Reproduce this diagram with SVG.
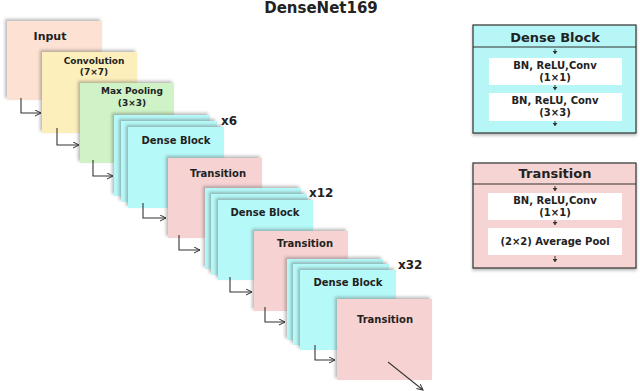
<svg xmlns="http://www.w3.org/2000/svg" width="640" height="391" viewBox="0 0 640 391">
<defs>
<filter id="sh" x="-20%" y="-20%" width="140%" height="140%">
<feDropShadow dx="-2" dy="-2" stdDeviation="1.5" flood-color="#555" flood-opacity="0.4"/>
</filter>
<filter id="sh2" x="-10%" y="-10%" width="120%" height="130%">
<feDropShadow dx="0" dy="2" stdDeviation="1.5" flood-color="#555" flood-opacity="0.4"/>
</filter>
<marker id="ah" markerWidth="8" markerHeight="8" refX="6" refY="3" orient="auto" markerUnits="userSpaceOnUse">
<path d="M0,0 L6,3 L0,6" fill="none" stroke="#333" stroke-width="1"/>
</marker>
<marker id="sa" markerWidth="6" markerHeight="6" refX="2.5" refY="4" orient="0" markerUnits="userSpaceOnUse">
<path d="M0,1 L2.5,4 L5,1 Z" fill="#333"/>
</marker>
</defs>
<style>
text{font-family:"DejaVu Sans","Liberation Sans",sans-serif;font-weight:bold;fill:#222;text-anchor:middle}
.in{fill:#fde1d3}
.cv{fill:#fdefbb}
.mp{fill:#cff2c6}
.db{fill:#b6f9f9}
.tr{fill:#f6d3d2}
.blk rect{filter:url(#sh)}
.lbl{font-size:10px}
.sm{font-size:9px}
.cnt{font-size:12px;text-anchor:start}
.conn path{fill:none;stroke:#333;stroke-width:1.1;marker-end:url(#ah)}
.pn{stroke:#333;stroke-width:1.2;filter:url(#sh2)}
.wb{fill:#fff}
.ph{font-size:13px}
.pt{font-size:10px}
.small{stroke:#333;stroke-width:1;marker-end:url(#sa)}
</style>
<text x="321" y="13" style="font-size:15px">DenseNet169</text>

<g id="input" class="blk"><rect class="in" x="7" y="21" width="95" height="79"/><text x="50" y="40" style="font-size:11px">Input</text></g>
<g id="conv" class="blk"><rect class="cv" x="42" y="52" width="95" height="81"/><text class="sm" x="94" y="64">Convolution</text><text class="sm" x="94" y="75">(7×7)</text></g>
<g id="maxpool" class="blk"><rect class="mp" x="80" y="83" width="94" height="80"/><text class="sm" x="132" y="94">Max Pooling</text><text class="sm" x="132" y="106">(3×3)</text></g>
<g id="dense1" class="blk"><rect class="db" x="114" y="115" width="96" height="81"/><rect class="db" x="121" y="121" width="96" height="81"/><rect class="db" x="128" y="127" width="96" height="81"/><text class="lbl" x="176" y="144">Dense Block</text><text class="cnt" x="221" y="125">x6</text></g>
<g id="trans1" class="blk"><rect class="tr" x="168" y="158" width="94" height="80"/><text class="lbl" x="218" y="177">Transition</text></g>
<g id="dense2" class="blk"><rect class="db" x="205" y="188" width="96" height="81"/><rect class="db" x="211" y="194" width="96" height="81"/><rect class="db" x="218" y="200" width="95" height="80"/><text class="lbl" x="265" y="216">Dense Block</text><text class="cnt" x="309" y="197">x12</text></g>
<g id="trans2" class="blk"><rect class="tr" x="254" y="231" width="94" height="80"/><text class="lbl" x="305" y="247">Transition</text></g>
<g id="dense3" class="blk"><rect class="db" x="287" y="259" width="96" height="81"/><rect class="db" x="293" y="264" width="96" height="81"/><rect class="db" x="300" y="270" width="96" height="80"/><text class="lbl" x="348" y="286">Dense Block</text><text class="cnt" x="398" y="269">x32</text></g>
<g id="trans3" class="blk"><rect class="tr" x="337" y="299" width="95" height="81"/><text class="lbl" x="385" y="323">Transition</text></g>

<g id="connectors" class="conn">
<path d="M21,98 V113 H41"/>
<path d="M57,128 V145 H79"/>
<path d="M93,160 V176 H113"/>
<path d="M143,203 V218 H166"/>
<path d="M179,235 V250 H200"/>
<path d="M230,277 V292 H252"/>
<path d="M265,307 V322 H285"/>
<path d="M315,345 V360 H335"/>
<path d="M388,362 L423,390"/>
</g>

<g id="panel-dense">
<rect class="pn" x="473" y="25" width="163" height="108" fill="#b6f6f6"/>
<line x1="473" y1="47" x2="636" y2="47" stroke="#333" stroke-width="1"/>
<text class="ph" x="555" y="42">Dense Block</text>
<rect class="wb" x="489" y="58" width="133" height="27"/>
<rect class="wb" x="489" y="93" width="133" height="28"/>
<text class="pt" x="555" y="69">BN, ReLU,Conv</text>
<text class="pt" x="555" y="81">(1×1)</text>
<text class="pt" x="555" y="104">BN, ReLU, Conv</text>
<text class="pt" x="555" y="116">(3×3)</text>
<line class="small" x1="555" y1="49" x2="555" y2="54"/>
<line class="small" x1="555" y1="85" x2="555" y2="90"/>
<line class="small" x1="555" y1="121" x2="555" y2="126"/>
</g>

<g id="panel-transition">
<rect class="pn" x="473" y="163" width="163" height="105" fill="#f6d4d4"/>
<line x1="473" y1="184" x2="636" y2="184" stroke="#333" stroke-width="1"/>
<text class="ph" x="555" y="178">Transition</text>
<rect class="wb" x="488" y="193" width="134" height="27"/>
<rect class="wb" x="488" y="228" width="134" height="27"/>
<text class="pt" x="555" y="204">BN, ReLU,Conv</text>
<text class="pt" x="555" y="216">(1×1)</text>
<text class="pt" x="555" y="245">(2×2) Average Pool</text>
<line class="small" x1="555" y1="186" x2="555" y2="191"/>
<line class="small" x1="555" y1="220" x2="555" y2="225"/>
<line class="small" x1="555" y1="256" x2="555" y2="262"/>
</g>
</svg>
